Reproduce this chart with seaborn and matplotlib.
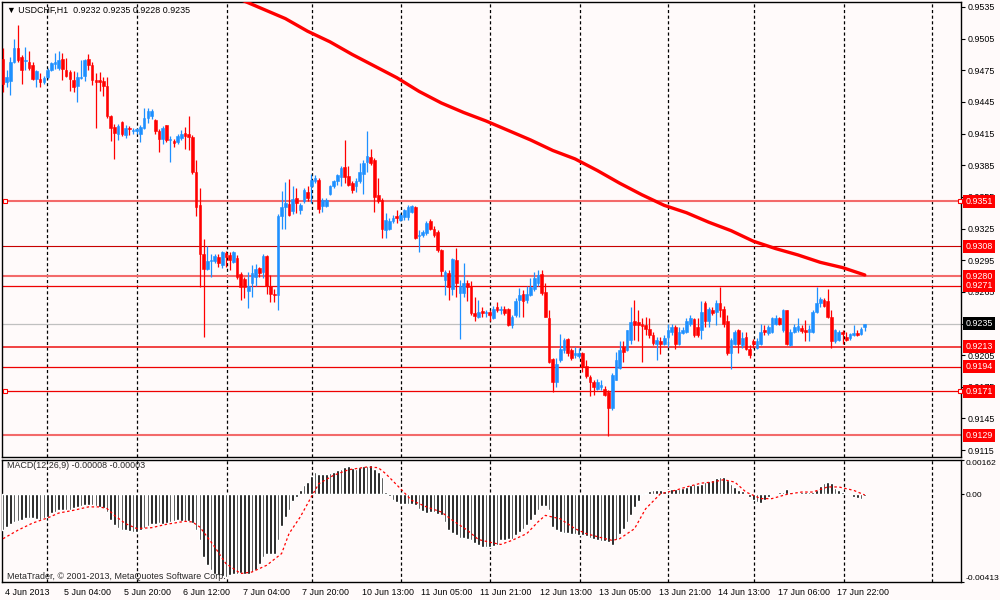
import numpy as np
import pandas as pd
import matplotlib
matplotlib.use("Agg")
import matplotlib.pyplot as plt
import matplotlib.transforms as mtransforms
import seaborn as sns

# USDCHF H1 candles, prices in 1/10000 (one value per hourly bar, 4 Jun 12:00 onwards)
opens = [
    9486, 9464, 9465, 9483, 9496, 9488, 9484, 9483, 9480, 9467,
    9467, 9464, 9469, 9475, 9481, 9477, 9486, 9475, 9473, 9466,
    9460, 9468, 9470, 9486, 9480, 9466, 9466, 9465, 9460, 9432,
    9421, 9415, 9426, 9414, 9420, 9417, 9417, 9415, 9420, 9430,
    9432, 9428, 9417, 9410, 9423, 9409, 9408, 9407, 9411, 9416,
    9415, 9412, 9379, 9347, 9301, 9287, 9294, 9294, 9298, 9290,
    9302, 9300, 9293, 9297, 9282, 9277, 9266, 9273, 9279, 9288,
    9284, 9299, 9271, 9263, 9262, 9337, 9345, 9348, 9342, 9354,
    9343, 9351, 9360, 9365, 9370, 9371, 9346, 9346, 9358, 9365,
    9370, 9374, 9383, 9375, 9368, 9365, 9370, 9377, 9388, 9393,
    9390, 9357, 9352, 9324, 9325, 9332, 9337, 9333, 9336, 9336,
    9341, 9345, 9318, 9319, 9321, 9332, 9325, 9322, 9305, 9276,
    9283, 9268, 9295, 9264, 9264, 9273, 9271, 9245, 9241, 9247,
    9245, 9246, 9240, 9251, 9248, 9249, 9249, 9234, 9243, 9257,
    9263, 9257, 9262, 9268, 9273, 9282, 9265, 9240, 9201, 9180,
    9200, 9210, 9220, 9210, 9205, 9204, 9207, 9195, 9184, 9180,
    9173, 9175, 9173, 9170, 9155, 9181, 9193, 9213, 9210, 9219,
    9237, 9236, 9235, 9234, 9230, 9224, 9216, 9218, 9216, 9222,
    9227, 9232, 9216, 9226, 9227, 9235, 9239, 9232, 9229, 9254,
    9237, 9248, 9246, 9254, 9249, 9237, 9207, 9216, 9229, 9215,
    9222, 9211, 9218, 9212, 9216, 9229, 9226, 9227, 9235, 9240,
    9229, 9248, 9215, 9227, 9229, 9231, 9229, 9227, 9227, 9246,
    9254, 9257, 9256, 9241, 9218, 9219, 9227, 9222, 9221, 9224,
    9226, 9225, 9232,
]
closes = [
    9462, 9469, 9483, 9496, 9485, 9475, 9485, 9477, 9467, 9474,
    9464, 9468, 9475, 9482, 9483, 9485, 9476, 9470, 9467, 9459,
    9469, 9469, 9485, 9480, 9466, 9464, 9464, 9460, 9432, 9420,
    9416, 9422, 9415, 9420, 9419, 9418, 9419, 9421, 9430, 9436,
    9436, 9417, 9410, 9420, 9409, 9410, 9406, 9413, 9415, 9413,
    9412, 9379, 9345, 9301, 9287, 9294, 9295, 9299, 9292, 9303,
    9298, 9295, 9303, 9279, 9270, 9270, 9271, 9283, 9287, 9283,
    9299, 9271, 9263, 9262, 9337, 9345, 9349, 9338, 9353, 9349,
    9347, 9362, 9354, 9371, 9373, 9344, 9352, 9352, 9365, 9370,
    9376, 9382, 9374, 9366, 9362, 9370, 9379, 9387, 9394, 9387,
    9355, 9351, 9325, 9333, 9332, 9335, 9335, 9338, 9343, 9345,
    9346, 9316, 9319, 9322, 9330, 9325, 9319, 9305, 9285, 9284,
    9270, 9296, 9273, 9271, 9273, 9270, 9245, 9242, 9246, 9245,
    9246, 9243, 9249, 9248, 9249, 9245, 9234, 9241, 9256, 9262,
    9256, 9263, 9270, 9278, 9281, 9264, 9241, 9199, 9180, 9197,
    9211, 9219, 9207, 9202, 9207, 9207, 9194, 9185, 9180, 9175,
    9180, 9177, 9167, 9155, 9186, 9200, 9210, 9208, 9229, 9236,
    9234, 9234, 9233, 9230, 9224, 9217, 9219, 9216, 9221, 9229,
    9232, 9216, 9227, 9229, 9237, 9240, 9224, 9224, 9246, 9237,
    9249, 9245, 9254, 9248, 9235, 9207, 9219, 9227, 9216, 9221,
    9211, 9205, 9216, 9218, 9227, 9227, 9232, 9240, 9240, 9235,
    9248, 9216, 9227, 9232, 9233, 9228, 9227, 9230, 9246, 9254,
    9258, 9252, 9241, 9218, 9229, 9227, 9225, 9219, 9225, 9226,
    9224, 9230, 9235,
]
highs = [
    9496, 9475, 9488, 9505, 9518, 9489, 9497, 9493, 9483, 9475,
    9472, 9470, 9477, 9483, 9491, 9493, 9491, 9487, 9475, 9474,
    9473, 9485, 9486, 9490, 9483, 9472, 9473, 9469, 9469, 9433,
    9424, 9424, 9427, 9423, 9422, 9420, 9420, 9423, 9439, 9439,
    9438, 9429, 9419, 9422, 9423, 9413, 9410, 9415, 9418, 9421,
    9432, 9414, 9390, 9363, 9315, 9308, 9301, 9301, 9301, 9304,
    9304, 9303, 9304, 9300, 9284, 9279, 9284, 9290, 9291, 9289,
    9301, 9300, 9281, 9268, 9339, 9361, 9369, 9372, 9365, 9363,
    9349, 9363, 9365, 9377, 9376, 9373, 9354, 9354, 9366, 9371,
    9377, 9384, 9409, 9384, 9370, 9373, 9387, 9390, 9417, 9400,
    9392, 9373, 9354, 9340, 9335, 9338, 9343, 9340, 9344, 9347,
    9347, 9346, 9324, 9324, 9332, 9334, 9327, 9324, 9306, 9286,
    9286, 9297, 9307, 9276, 9292, 9276, 9275, 9260, 9257, 9251,
    9248, 9248, 9252, 9255, 9252, 9252, 9250, 9243, 9259, 9269,
    9267, 9271, 9278, 9284, 9286, 9286, 9273, 9248, 9202, 9202,
    9225, 9221, 9221, 9212, 9213, 9212, 9208, 9200, 9186, 9181,
    9182, 9181, 9176, 9172, 9188, 9208, 9218, 9218, 9229, 9251,
    9257, 9248, 9240, 9241, 9240, 9227, 9222, 9222, 9224, 9235,
    9235, 9234, 9232, 9232, 9240, 9243, 9240, 9240, 9256, 9256,
    9251, 9251, 9257, 9270, 9252, 9243, 9221, 9229, 9230, 9227,
    9227, 9215, 9220, 9221, 9235, 9234, 9234, 9241, 9243, 9241,
    9249, 9248, 9230, 9235, 9240, 9234, 9238, 9234, 9248, 9270,
    9260, 9259, 9268, 9248, 9230, 9229, 9229, 9227, 9226, 9234,
    9229, 9232, 9235,
]
lows = [
    9454, 9459, 9452, 9482, 9483, 9462, 9475, 9475, 9466, 9459,
    9459, 9462, 9467, 9474, 9476, 9475, 9466, 9469, 9455, 9454,
    9445, 9467, 9465, 9475, 9461, 9420, 9455, 9451, 9430, 9408,
    9391, 9409, 9413, 9411, 9414, 9415, 9415, 9407, 9419, 9425,
    9429, 9415, 9398, 9405, 9407, 9388, 9402, 9405, 9409, 9400,
    9399, 9377, 9337, 9270, 9222, 9286, 9279, 9292, 9289, 9288,
    9289, 9286, 9292, 9277, 9257, 9259, 9250, 9260, 9271, 9279,
    9278, 9263, 9255, 9255, 9248, 9325, 9325, 9337, 9339, 9340,
    9339, 9349, 9351, 9349, 9368, 9340, 9341, 9345, 9357, 9363,
    9366, 9365, 9368, 9365, 9359, 9360, 9368, 9358, 9379, 9385,
    9341, 9349, 9316, 9316, 9324, 9330, 9330, 9332, 9333, 9333,
    9340, 9315, 9303, 9317, 9319, 9324, 9317, 9303, 9280, 9262,
    9257, 9262, 9260, 9220, 9260, 9256, 9243, 9237, 9240, 9241,
    9241, 9237, 9239, 9246, 9244, 9243, 9233, 9231, 9241, 9241,
    9241, 9254, 9261, 9266, 9271, 9262, 9241, 9198, 9170, 9175,
    9199, 9207, 9204, 9200, 9202, 9202, 9189, 9183, 9166, 9167,
    9172, 9172, 9166, 9128, 9153, 9181, 9192, 9199, 9209, 9216,
    9219, 9218, 9199, 9224, 9221, 9215, 9200, 9206, 9215, 9213,
    9224, 9211, 9215, 9225, 9226, 9233, 9222, 9222, 9220, 9232,
    9232, 9243, 9234, 9241, 9232, 9205, 9192, 9215, 9207, 9212,
    9210, 9202, 9212, 9211, 9215, 9224, 9224, 9226, 9234, 9234,
    9227, 9215, 9214, 9226, 9227, 9226, 9218, 9218, 9226, 9245,
    9251, 9251, 9240, 9212, 9217, 9218, 9216, 9218, 9219, 9223,
    9223, 9224, 9228,
]

# slow moving average, read at selected bars (1/10000)
ma_bars = [60, 64, 70, 76, 82, 88, 94, 100, 106, 112, 118, 124, 130, 136, 142,
           148, 154, 160, 166, 172, 178, 184, 190, 196, 202, 208, 214, 220, 226, 232]
ma_vals = [9548, 9542, 9533, 9524, 9512, 9502, 9490, 9479, 9468, 9455, 9444, 9435,
           9427, 9418, 9409, 9399, 9391, 9380, 9368, 9357, 9347, 9340, 9331, 9323,
           9313, 9306, 9300, 9293, 9288, 9281]

# MACD(12,26,9) histogram, one value per bar (1e-5)
macd_main = [
    -170, -154, -140, -130, -125, -120, -110, -110, -110, -117,
    -120, -110, -106, -90, -83, -75, -72, -75, -72, -64,
    -59, -56, -52, -48, -50, -55, -59, -63, -83, -120,
    -146, -157, -166, -170, -172, -177, -177, -170, -158, -150,
    -140, -138, -135, -138, -135, -132, -127, -122, -125, -125,
    -127, -135, -170, -216, -295, -334, -358, -373, -381, -386,
    -389, -381, -377, -373, -370, -377, -373, -366, -355, -326,
    -295, -282, -279, -282, -213, -150, -107, -72, -31, -12,
    19, 43, 58, 85, 105, 98, 94, 94, 101, 105,
    113, 121, 129, 134, 126, 121, 129, 134, 132, 137,
    121, 105, 82, 11, -9, -28, -36, -44, -47, -47,
    -44, -52, -67, -78, -88, -83, -83, -91, -99, -130,
    -170, -182, -193, -204, -204, -209, -216, -229, -240, -248,
    -248, -248, -245, -240,
    -217, -214, -209, -209, -193, -178, -162, -146, -123, -99,
    -75, -57, -57, -75, -154, -170, -178, -182, -182, -186,
    -189, -190, -190, -198, -204, -209, -217, -220, -220, -225,
    -237, -214, -186, -162, -130, -99, -60, -31, -5, 6,
    16, 22, 22, 19, 16, 19, 24, 27, 27, 31,
    35, 42, 50, 46, 47, 58, 61, 69, 79, 82,
    82, 66, 50, 35, 22, 16, 0, -13, -25, -36,
    -41, -25, -13, -5, 0, 11, 11, 24, 11, 8,
    6, 11, 11, 11, 13, 22, 38, 55, 58, 55,
    31, 22, 11, 3, -5, -13, -16, -21, -8,
]
# signal line read at selected bars (1e-5)
sig_bars = [0, 4, 8, 12, 15, 19, 23, 26, 28, 30, 33, 36, 40, 44, 49, 51, 53, 57, 60, 64,
            67, 71, 75, 77, 80, 83, 85, 89, 93, 98, 101, 103, 107, 110, 114, 118, 121, 125, 128, 132,
            134, 137, 141, 144, 146, 150, 154, 157, 161, 164, 166, 170, 173, 177, 181, 184, 188, 191, 194, 197,
            200, 204, 207, 211, 215, 218, 222, 225, 229, 232]
sig_vals = [-209, -169, -135, -111, -88, -75, -59, -59, -67, -99, -138, -161, -157, -141, -127, -130, -154, -248, -326, -373,
            -366, -334, -279, -185, -107, -12, 50, 90, 116, 129, 126, 98, 27, -28, -59, -83, -122, -169, -213, -229,
            -236, -217, -185, -130, -99, -115, -162, -185, -204, -217, -209, -162, -68, 3, 19, 35, 53, 58, 69, 58,
            11, -20, -20, 0, 11, 11, 35, 35, 19, -3]

levels = [0.9351, 0.9308, 0.9280, 0.9271, 0.9213, 0.9194, 0.9171, 0.9129]
bid = 0.9235
price_ticks = [0.9535, 0.9505, 0.9475, 0.9445, 0.9415, 0.9385, 0.9355, 0.9325,
               0.9295, 0.9265, 0.9235, 0.9205, 0.9175, 0.9145, 0.9115]
time_bars = [0, 16, 32, 48, 64, 80, 96, 112, 128, 144, 160, 176, 192, 208, 224]
time_labels = ["4 Jun 2013", "5 Jun 04:00", "5 Jun 20:00", "6 Jun 12:00", "7 Jun 04:00",
               "7 Jun 20:00", "10 Jun 13:00", "11 Jun 05:00", "11 Jun 21:00", "12 Jun 13:00",
               "13 Jun 05:00", "13 Jun 21:00", "14 Jun 13:00", "17 Jun 06:00", "17 Jun 22:00"]

# style
bg = "#fffafa"
bull = "#1e90ff"
bear = "#ff0000"
level_style = {0.9351: ("#f36a6a", 1.5), 0.9308: ("#c80000", 0.8), 0.9280: ("#f36a6a", 1.5),
               0.9271: ("#ee0000", 0.9), 0.9213: ("#ee1010", 1.1), 0.9194: ("#ee0000", 0.9),
               0.9171: ("#ee0000", 0.9), 0.9129: ("#f36a6a", 1.5)}
grid_pos = [11.9, 36, 60.3, 83.1, 107.2, 131.1, 155.2, 179.1, 202.2, 226.3, 250.2]
xlim = (-0.27, 257.9)
fs = 6.4

sns.set_style("white")
plt.rcParams['font.family'] = ['Liberation Sans', 'DejaVu Sans']

df = pd.DataFrame({"o": opens, "h": highs, "l": lows, "c": closes}) / 10000
df["i"] = np.arange(len(df))
colors = np.where(df["c"] >= df["o"], bull, bear)

fig = plt.figure(figsize=(10, 6), dpi=100, facecolor=bg)
ax = fig.add_axes([0.002, 1 - 457 / 600, 0.959, 455 / 600], facecolor=bg)
axm = fig.add_axes([0.002, 0.03, 0.959, 122 / 600], facecolor=bg)

for a in (ax, axm):
    for g in grid_pos:
        a.axvline(g, color="black", lw=0.9, ls=(0, (2.5, 2)), zorder=1)
    for s in a.spines.values():
        s.set_color("black")
        s.set_linewidth(1)
    a.set_xlim(*xlim)

# price panel
ax.axhline(bid, color="#c0c0c0", lw=0.9, zorder=1)
for lv in levels:
    col, lw = level_style[lv]
    ax.axhline(lv, color=col, lw=lw, zorder=2)
ax.vlines(df["i"], df["l"], df["h"], colors=colors, lw=0.9, zorder=3)
ax.bar(df["i"], df["c"] - df["o"], bottom=df["o"], width=0.72, color=colors,
       edgecolor=colors, lw=0.4, zorder=4)
sns.lineplot(x=ma_bars, y=np.array(ma_vals) / 10000, ax=ax, color="#ff0000", lw=2.4, zorder=5)

for lv in (0.9351, 0.9171):
    ax.plot([0.6, 257.5], [lv, lv], ls="none", marker="s", ms=3.2, mfc="white",
            mec="#ff0000", mew=0.8, clip_on=False, zorder=6)

ax.set_ylim(0.91085, 0.95397)
ax.yaxis.tick_right()
ax.set_yticks(price_ticks)
ax.set_yticklabels([f"{v:.4f}" for v in price_ticks])
ax.tick_params(axis="y", direction="out", length=3, width=0.8, pad=2, labelsize=fs, colors="black")
ax.set_xticks([])
ax.set_xlabel("")
ax.set_ylabel("")

trans = ax.get_yaxis_transform()
for lv in levels:
    ax.text(1.0045, lv, f"{lv:.4f}", transform=trans, ha="left", va="center", fontsize=fs,
            color="white", bbox=dict(boxstyle="square,pad=0.22", fc="#ff0000", ec="none"),
            zorder=10, clip_on=False)
ax.text(1.0045, bid, f"{bid:.4f}", transform=trans, ha="left", va="center", fontsize=fs,
        color="white", bbox=dict(boxstyle="square,pad=0.22", fc="black", ec="none"),
        zorder=10, clip_on=False)

fig.text(0.007, 1 - 10 / 600, "\u25bc USDCHF,H1  0.9232 0.9235 0.9228 0.9235",
         fontsize=fs, va="center", ha="left", color="black")

# MACD panel
axm.bar(np.arange(len(macd_main)), np.array(macd_main) / 1e5, width=0.72, color="black", zorder=3)
sns.lineplot(x=sig_bars, y=np.array(sig_vals) / 1e5, ax=axm, color="#ff0000", lw=0.9,
             linestyle=(0, (2, 2)), zorder=4)
axm.set_ylim(-0.00413, 0.00162)
axm.yaxis.tick_right()
axm.set_yticks([0.00162, 0.0, -0.00413])
axm.set_yticklabels(["0.00162", "0.00", "-0.00413"])
axm.tick_params(axis="y", direction="out", length=2, width=0.8, pad=1, labelsize=6.1, colors="black")
yl = axm.get_yticklabels()
yl[0].set_va("top")
yl[2].set_va("bottom")
axm.set_xticks(time_bars)
axm.set_xticklabels(time_labels)
axm.tick_params(axis="x", direction="out", length=3, width=0.8, pad=1.5, labelsize=fs, colors="black")
offset = mtransforms.ScaledTranslation(2 / 100, 0, fig.dpi_scale_trans)
for t in axm.get_xticklabels():
    t.set_ha("left")
    t.set_transform(t.get_transform() + offset)
axm.set_xlabel("")
axm.set_ylabel("")

axm.text(0.0052, 0.951, "MACD(12,26,9) -0.00008 -0.00003", transform=axm.transAxes,
         fontsize=fs, va="center", ha="left", zorder=10)
axm.text(0.0052, 0.041, "MetaTrader, \u00a9 2001-2013, MetaQuotes Software Corp.",
         transform=axm.transAxes, fontsize=fs, va="center", ha="left", zorder=10)

fig.savefig("out.png", dpi=100, facecolor=bg)
